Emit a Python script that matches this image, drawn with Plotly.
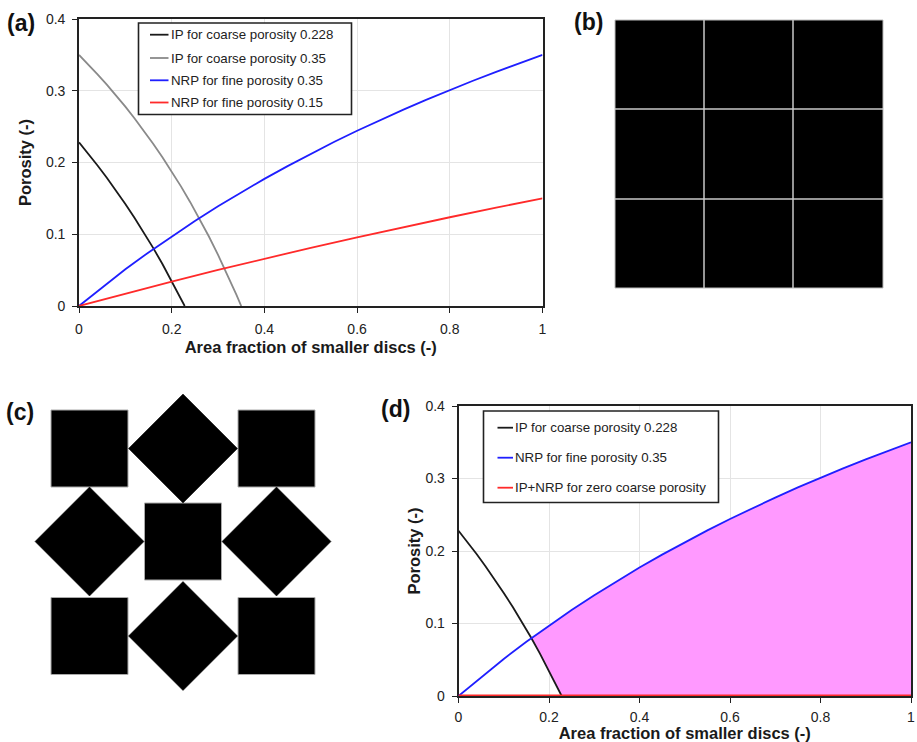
import numpy as np
import plotly.graph_objects as go

W, H = 917, 742

# ---------------- data ----------------
ip228_x = [0, 0.02, 0.04, 0.06, 0.08, 0.10, 0.12, 0.14, 0.16, 0.18, 0.20, 0.22, 0.228]
ip228_y = [0.228, 0.2122, 0.1958, 0.1787, 0.1609, 0.1422, 0.1227, 0.1023, 0.0810, 0.0585, 0.035, 0.0103, 0]

ip35_x = [0, 0.02, 0.04, 0.06, 0.08, 0.10, 0.12, 0.14, 0.16, 0.18, 0.20, 0.22, 0.24, 0.26, 0.28, 0.30, 0.32, 0.34, 0.35]
ip35_y = [0.35, 0.3367, 0.3229, 0.3085, 0.2935, 0.2778, 0.2614, 0.2442, 0.2262, 0.2073, 0.1875, 0.1667,
          0.1447, 0.1216, 0.0972, 0.0714, 0.0441, 0.0152, 0]

nrp35_x = [0, 0.05, 0.1, 0.15, 0.2, 0.25, 0.3, 0.35, 0.4, 0.45, 0.5, 0.55, 0.6, 0.65, 0.7, 0.75, 0.8, 0.85, 0.9, 0.95, 1.0]
nrp35_y = [0, 0.0262, 0.0511, 0.0747, 0.0972, 0.1186, 0.1391, 0.1586, 0.1772, 0.1950, 0.2121, 0.2285,
           0.2442, 0.2593, 0.2737, 0.2877, 0.3011, 0.3140, 0.3264, 0.3384, 0.35]

nrp15_x = [0, 0.1, 0.2, 0.3, 0.4, 0.5, 0.6, 0.7, 0.8, 0.9, 1.0]
nrp15_y = [0, 0.0173, 0.0341, 0.0503, 0.0659, 0.0811, 0.0957, 0.1099, 0.1237, 0.1371, 0.15]

zero_x = [0, 1]
zero_y = [0, 0]

x_ticks = [0, 0.2, 0.4, 0.6, 0.8, 1]
y_ticks = [0, 0.1, 0.2, 0.3, 0.4]

names_a = ["IP for coarse porosity 0.228", "IP for coarse porosity 0.35",
           "NRP for fine porosity 0.35", "NRP for fine porosity 0.15"]
names_d = ["IP for coarse porosity 0.228", "NRP for fine porosity 0.35",
           "IP+NRP for zero coarse porosity"]

# ---------------- styles ----------------
FONT = "Arial, Liberation Sans, sans-serif"
C_BLACK = "#1a1a1a"
C_GREY = "#8a8a8a"
C_BLUE = "#1f1fff"
C_RED = "#ff2a2a"
C_FILL = "#ff99ff"
colors_a = [C_BLACK, C_GREY, C_BLUE, C_RED]
colors_d = [C_BLACK, C_BLUE, C_RED]


def px(x):
    return x / W


def py(y):
    return 1 - y / H


fig = go.Figure()

# ---- panel (a) ----
for xs, ys, nm, col in zip([ip228_x, ip35_x, nrp35_x, nrp15_x], [ip228_y, ip35_y, nrp35_y, nrp15_y],
                           names_a, colors_a):
    fig.add_trace(go.Scatter(x=xs, y=ys, mode="lines", name=nm, line=dict(color=col, width=1.8),
                             xaxis="x", yaxis="y", showlegend=False))

# ---- panel (d) fill region between curves ----
grid = np.linspace(0, ip228_x[-1], 2001)
diff = np.interp(grid, ip228_x, ip228_y) - np.interp(grid, nrp35_x, nrp35_y)
k = np.where(np.diff(np.sign(diff)) != 0)[0][0]
xi = grid[k] - diff[k] * (grid[k + 1] - grid[k]) / (diff[k + 1] - diff[k])
yi = float(np.interp(xi, nrp35_x, nrp35_y))
bx = np.array(nrp35_x)
by = np.array(nrp35_y)
kx = np.array(ip228_x)
ky = np.array(ip228_y)
sel = (kx > xi) & (kx < ip228_x[-1])
poly_x = [xi] + list(bx[bx > xi]) + [nrp35_x[-1], ip228_x[-1]] + list(kx[sel][::-1]) + [xi]
poly_y = [yi] + list(by[bx > xi]) + [0, 0] + list(ky[sel][::-1]) + [yi]
fig.add_trace(go.Scatter(x=poly_x, y=poly_y, mode="lines", fill="toself", fillcolor=C_FILL,
                         line=dict(width=0, color=C_FILL), showlegend=False, hoverinfo="skip",
                         xaxis="x2", yaxis="y2"))

for xs, ys, nm, col in zip([ip228_x, nrp35_x, zero_x], [ip228_y, nrp35_y, zero_y], names_d, colors_d):
    fig.add_trace(go.Scatter(x=xs, y=ys, mode="lines", name=nm,
                             line=dict(color=col, width=3 if col == C_RED else 1.8),
                             xaxis="x2", yaxis="y2", showlegend=False))

axis_common = dict(showgrid=True, gridcolor="#e4e4e4", gridwidth=1, showline=True, linecolor="#222222",
                   linewidth=1.6, mirror=True, ticks="outside", ticklen=5, tickcolor="#222222",
                   tickfont=dict(family=FONT, size=14, color="#222222"), zeroline=False,
                   automargin=False, fixedrange=True)
title_font = dict(family=FONT, size=16.5, weight="bold", color="#1a1a1a")

fig.update_layout(
    template="none",
    width=W, height=H,
    margin=dict(l=0, r=0, t=0, b=0),
    paper_bgcolor="white", plot_bgcolor="white",
    font=dict(family=FONT, color="#222222"),
    xaxis=dict(domain=[px(79), px(542.5)], anchor="y", range=[0, 1], tickvals=x_ticks, ticklabelstandoff=4,
               title=dict(text="Area fraction of smaller discs (-)", standoff=6, font=title_font),
               **axis_common),
    yaxis=dict(domain=[py(306), py(19)], anchor="x", range=[0, 0.4], tickvals=y_ticks, ticklabelstandoff=4,
               title=dict(text="Porosity (-)", standoff=10, font=title_font),
               **axis_common),
    xaxis2=dict(domain=[px(458.5), px(911)], anchor="y2", range=[0, 1], tickvals=x_ticks, ticklabelstandoff=2,
                layer="below traces",
                title=dict(text="Area fraction of smaller discs (-)", standoff=5, font=title_font),
                **axis_common),
    yaxis2=dict(domain=[py(696), py(406)], anchor="x2", range=[0, 0.4], tickvals=y_ticks, ticklabelstandoff=4,
                layer="below traces",
                title=dict(text="Porosity (-)", standoff=1, font=title_font),
                **axis_common),
    showlegend=False,
)

shapes = []

# ---- legends (drawn as boxes with short line samples and text) ----
def add_legend(box, line_x, text_x, rows, names, colors):
    x0, x1, y0, y1 = box
    shapes.append(dict(type="rect", xref="paper", yref="paper", x0=px(x0), x1=px(x1), y0=py(y1), y1=py(y0),
                       fillcolor="white", line=dict(color="#222222", width=1.6), layer="above"))
    for ry, nm, col in zip(rows, names, colors):
        shapes.append(dict(type="line", xref="paper", yref="paper", x0=px(line_x[0]), x1=px(line_x[1]),
                           y0=py(ry), y1=py(ry), line=dict(color=col, width=1.8), layer="above"))
        fig.add_annotation(text=nm, x=px(text_x), y=py(ry), xref="paper", yref="paper", xanchor="left",
                           yanchor="middle", showarrow=False,
                           font=dict(family=FONT, size=13.3, color="#222222"))


add_legend((138.5, 351.5, 23, 114.5), (150, 168.5), 168.5, [34.7, 58, 80.3, 102.5], names_a, colors_a)
add_legend((483.5, 718.5, 411, 502.5), (497.5, 513), 513, [427.7, 457.7, 487.7], names_d, colors_d)

# ---- panel labels ----
for lab, (lx, ly) in {"(a)": (5, 23), "(b)": (572, 21.5), "(c)": (4, 412), "(d)": (379, 409)}.items():
    fig.add_annotation(text=lab, x=px(lx), y=py(ly), xref="paper", yref="paper", xanchor="left",
                       yanchor="middle", showarrow=False,
                       font=dict(family=FONT, size=23, weight="bold", color="#111111"))

# ---- panel (b): 3x3 square grid ----
b_left, b_right, b_top, b_bot = 615, 883, 20, 288
shapes.append(dict(type="rect", xref="paper", yref="paper", x0=px(b_left), x1=px(b_right), y0=py(b_bot),
                   y1=py(b_top), fillcolor="black", line=dict(color="#bbbbbb", width=1)))
for gx in [704, 793]:
    shapes.append(dict(type="line", xref="paper", yref="paper", x0=px(gx), x1=px(gx), y0=py(b_bot),
                       y1=py(b_top), line=dict(color="#c8c8c8", width=1.5)))
for gy in [109, 199]:
    shapes.append(dict(type="line", xref="paper", yref="paper", x0=px(b_left), x1=px(b_right), y0=py(gy),
                       y1=py(gy), line=dict(color="#c8c8c8", width=1.5)))

# ---- panel (c): squares and diamonds ----
half_sq = 38.5
half_dm = 54.5
square_centres = [(89.5, 448.5), (276.5, 448.5), (183, 541.5), (89.5, 636), (276.5, 636)]
diamond_centres = [(183, 448.5), (89.5, 541.5), (276.5, 541.5), (183, 636)]
for cx, cy in square_centres:
    shapes.append(dict(type="rect", xref="paper", yref="paper", x0=px(cx - half_sq), x1=px(cx + half_sq),
                       y0=py(cy + half_sq), y1=py(cy - half_sq), fillcolor="black",
                       line=dict(color="#aaaaaa", width=1)))
for cx, cy in diamond_centres:
    path = "M {} {} L {} {} L {} {} L {} {} Z".format(
        px(cx - half_dm), py(cy), px(cx), py(cy - half_dm), px(cx + half_dm), py(cy), px(cx), py(cy + half_dm))
    shapes.append(dict(type="path", xref="paper", yref="paper", path=path, fillcolor="black",
                       line=dict(color="black", width=0.5)))

fig.update_layout(shapes=shapes)

fig.write_html("out.html")
